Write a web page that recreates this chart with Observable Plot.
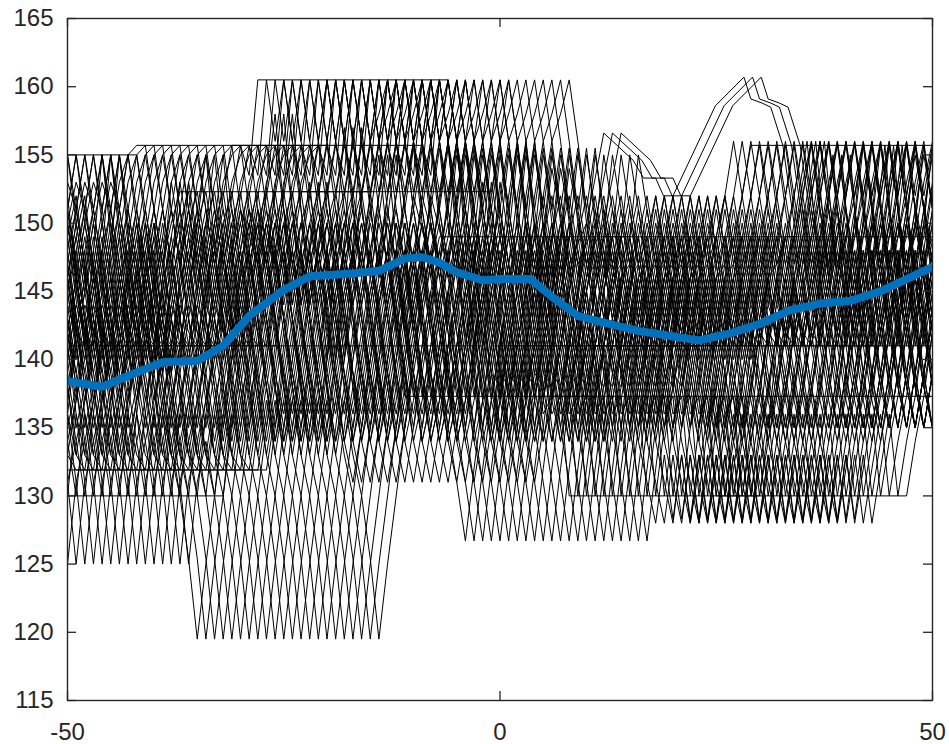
<!DOCTYPE html>
<html>
<head>
<meta charset="utf-8">
<script src="https://cdn.jsdelivr.net/npm/d3@7"></script>
<script src="https://cdn.jsdelivr.net/npm/@observablehq/plot@0.6"></script>
<style>
  html, body { margin: 0; padding: 0; background: #ffffff; }
  #chart svg { display: block; }
</style>
</head>
<body>
<div id="chart"></div>
<script>
// Lower family of traces: one value per unit step, starting at x = -71.
const lowerStart = -71;
const lowerValues = [
  136, 141, 141, 145, 148, 143, 138, 133, 137, 142,
  146, 141, 136, 131, 125, 131, 134, 130, 130, 136,
  133, 131.9, 131.9, 131.9, 136, 141, 141, 146, 148, 143,
  138, 133, 137, 133, 130, 125.4, 119.5, 125, 130, 135,
  140, 145, 148, 143, 138, 134, 137, 141, 141, 145,
  148, 144, 139, 134, 131, 135, 140, 144, 147, 142,
  137.3, 137.3, 141, 145, 140, 135, 131, 126.7, 132, 137,
  141, 141, 145, 148, 144, 140, 136, 137.3, 137.3, 130,
  130, 135, 141, 141, 146, 142, 138, 134, 131, 128,
  133, 128.3, 133, 128, 132, 136, 130, 130, 134, 137.3,
  137.3, 142, 146, 141, 141, 145, 148, 144, 139, 135,
  139, 144, 148, 143, 138, 142, 147, 143, 138, 135,
  139, 143
];

// Middle family of traces: one value per unit step, starting at x = -71.
const middleStart = -71;
const middleValues = [
  140, 144, 148, 151, 147, 143, 139, 135, 138, 142,
  146, 150, 146, 142, 138, 134, 137, 141, 145, 149,
  145, 141, 137, 140, 144, 148, 151, 147, 143, 139,
  135, 139, 143, 147, 150, 146, 142, 138, 134, 138,
  142, 146, 150, 147, 143, 139, 136, 140, 144, 148,
  151, 147, 143, 139, 135, 139, 143, 147, 150, 146,
  142, 138, 134, 137, 141, 145, 149, 145, 141, 137,
  134, 138, 142, 146, 150, 147, 143, 139, 135, 139,
  143, 147, 151, 147, 143, 139, 135, 138, 142, 146,
  149, 145, 141, 137, 134, 138, 142, 146, 150, 146,
  142, 138, 135, 139, 143, 147, 151, 147, 143, 139,
  135, 139, 143, 147, 150, 146, 142, 138, 135, 139,
  143, 147
];

// Upper family of traces: one value per unit step, starting at x = -71.
const upperStart = -71;
const upperValues = [
  150, 146, 142, 146, 150, 153, 151, 155, 155, 150,
  146, 142, 139, 143, 147, 151, 155, 151, 147, 143,
  140, 144, 142, 141, 141, 145, 149, 153, 155, 155.7,
  155.7, 151, 147, 150, 152.3, 152.3, 148, 144, 148, 152,
  155.7, 155.7, 153.5, 160.5, 160.5, 156, 160.5, 156, 152.3, 152.3,
  156, 160.5, 156, 151, 147, 152, 156, 158, 160.5, 156,
  151, 155.5, 150, 146, 149, 149, 155, 151, 147, 143,
  139, 138, 141, 141, 145, 149, 152, 148, 144, 140,
  143, 146, 147, 149, 149, 145, 141, 144, 148, 152,
  148, 144, 142, 141, 141, 145, 149, 152, 156, 152,
  155.7, 155.7, 151, 147, 149, 149, 153, 156, 151, 146,
  142, 146, 150, 155.7, 151, 147, 143, 147, 151, 155,
  151, 147
];

// Small family with the late peak near x = 28.
const peakX = [
  -52, -50, -48, -46, -44, -42, -40, -38, -36, -34, -32, -30, -28, -26, -24, -22, -20,
  -18, -16, -14, -12, -10, -8, -6, -4, -2, 0, 2, 4, 6, 8, 10, 12,
  15.4, 16.6, 18, 18.9, 20, 24.9, 28.2, 29, 30.3, 31.3, 32.7,
  34, 35.5, 37, 38.5, 40, 41.5, 43, 44.5, 46, 47.5, 49, 50.5
];
const peakY = [
  146, 152, 141, 155, 143, 150, 139, 153, 145, 155, 142, 151, 147, 158, 144, 153, 140,
  157, 146, 155, 142, 152, 147, 156, 141, 153, 145, 156, 143, 154, 147, 150, 156.6,
  154.6, 153.3, 153.3, 152, 152, 158.6, 160.7, 159.1, 158.8, 158.5, 155.7,
  150, 156, 146, 155, 143, 154, 147, 155.7, 144, 153, 148, 155
];

// Horizontal offsets of the repeated traces in each family.
const familyShifts = [0, 1, 2, 3, 4, 5, 6, 7, 8, 9, 10, 11, 12, 13, 14, 15, 16, 17, 18, 19, 20, 21];
const peakShifts = [0, 1, 2];

// Average curve.
const meanX = [-50, -46, -43, -39, -35, -32, -29, -25, -22, -17, -14, -12, -11, -9, -7, -5, -2, 0,
  3.5, 6, 9, 12, 16, 21, 23, 26.5, 30, 33.5, 37, 40.5, 44, 47, 50];
const meanY = [138.4, 138.0, 138.8, 139.8, 139.9, 141.0, 143.2, 145.1, 146.1, 146.3, 146.5, 147.1, 147.4, 147.5, 147.1, 146.4, 145.8, 145.9,
  145.9, 144.6, 143.2, 142.7, 142.1, 141.6, 141.4, 141.9, 142.6, 143.6, 144.1, 144.3, 145.0, 145.9, 146.8];

// Axis ticks.
const xTicks = [-50, 0, 50];
const yTicks = [115, 120, 125, 130, 135, 140, 145, 150, 155, 160, 165];

// Long table of all black traces.
const traces = [];
let id = 0;
function addFamily(start, values, shifts) {
  for (const s of shifts) {
    values.forEach((v, i) => traces.push({id, x: start + i + s, y: v}));
    id++;
  }
}
addFamily(lowerStart, lowerValues, familyShifts);
addFamily(middleStart, middleValues, familyShifts);
addFamily(upperStart, upperValues, familyShifts);
for (const s of peakShifts) {
  peakX.forEach((px, i) => traces.push({id, x: px + s, y: peakY[i]}));
  id++;
}
const meanCurve = meanX.map((x, i) => ({x, y: meanY[i]}));

const W = 949, H = 744;
const mL = 67, mR = 17, mT = 18, mB = 44;
const innerW = W - mL - mR, innerH = H - mT - mB;
const tickLen = 9;
const ink = "#262626";

const chart = Plot.plot({
  width: W,
  height: H,
  marginLeft: mL,
  marginRight: mR,
  marginTop: mT,
  marginBottom: mB,
  style: {fontFamily: "'Liberation Sans', Arial, Helvetica, sans-serif", background: "#ffffff"},
  x: {domain: [-50, 50]},
  y: {domain: [115, 165]},
  marks: [
    Plot.line(traces, {x: "x", y: "y", z: "id", stroke: "#000000", strokeWidth: 1, clip: true}),
    Plot.line(meanCurve, {x: "x", y: "y", stroke: "#0072BD", strokeWidth: 8, strokeLinejoin: "round", strokeLinecap: "butt", clip: true}),
    Plot.frame({stroke: ink, strokeWidth: 1.4}),
    // inward ticks on all four sides
    Plot.tickY(yTicks, {y: d => d, stroke: ink, strokeWidth: 1.3, insetRight: innerW - tickLen}),
    Plot.tickY(yTicks, {y: d => d, stroke: ink, strokeWidth: 1.3, insetLeft: innerW - tickLen}),
    Plot.tickX(xTicks, {x: d => d, stroke: ink, strokeWidth: 1.3, insetTop: innerH - tickLen}),
    Plot.tickX(xTicks, {x: d => d, stroke: ink, strokeWidth: 1.3, insetBottom: innerH - tickLen}),
    Plot.axisY(yTicks, {anchor: "left", tickSize: 0, tickPadding: 14, fontSize: 24, fill: ink, label: null, tickFormat: d => String(d)}),
    Plot.axisX(xTicks, {anchor: "bottom", tickSize: 0, tickPadding: 22, fontSize: 24, fill: ink, label: null, tickFormat: d => String(d)})
  ]
});
document.getElementById("chart").appendChild(chart);
</script>
</body>
</html>
